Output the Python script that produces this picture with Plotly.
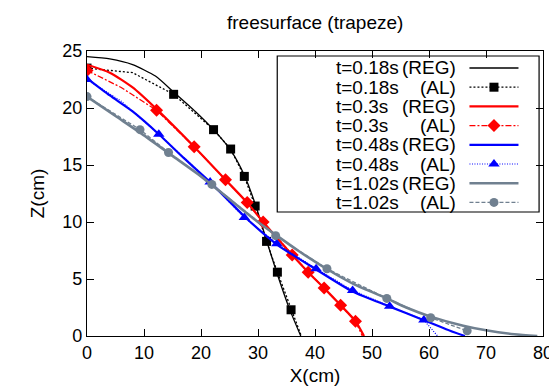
import plotly.graph_objects as go

# ---------------- data ----------------
reg018_x = [0, 4, 8, 12, 15.2, 19, 22.2, 25.2, 27.6, 29.5, 31.3, 33.2, 35.5, 37.5]
reg018_y = [24.5, 24.3, 23.8, 22.8, 21.4, 19.7, 18.1, 16.3, 14.1, 11.6, 8.7, 5.7, 2.4, 0]
al018_x = [0, 8, 15.2, 22.2, 25.2, 27.6, 29.5, 31.5, 33.4, 35.8, 37.6]
al018_y = [23.5, 23.1, 21.2, 18.1, 16.4, 14.0, 11.4, 8.3, 5.6, 2.3, 0]
al018_mx = [0, 15.2, 22.2, 25.2, 27.6, 29.5, 31.5, 33.4, 35.8]
al018_my = [23.5, 21.2, 18.1, 16.4, 14.0, 11.4, 8.3, 5.6, 2.3]

reg030_x = [0, 4, 8, 12.2, 18.8, 24.3, 28.1, 30.9, 36, 38.8, 41.6, 44.5, 47.1, 48.6]
reg030_y = [23.8, 23.1, 21.8, 19.9, 16.6, 13.7, 11.7, 10.0, 7.1, 5.6, 4.2, 2.7, 1.3, 0]
al030_x = [0, 6, 12.2, 18.8, 24.3, 28.1, 30.9, 36.0, 38.8, 41.6, 44.5, 47.1, 48.3]
al030_y = [23.3, 21.8, 19.8, 16.6, 13.7, 11.7, 10.0, 7.1, 5.6, 4.2, 2.7, 1.3, 0]
al030_mx = [0, 12.2, 18.8, 24.3, 28.1, 30.9, 36.0, 38.8, 41.6, 44.5, 47.1]
al030_my = [23.3, 19.8, 16.6, 13.7, 11.7, 10.0, 7.1, 5.6, 4.2, 2.7, 1.3]

reg048_x = [0, 4, 8, 12.6, 17, 21.6, 27.8, 33.4, 40, 46.6, 53, 59, 63, 66.3]
reg048_y = [22.6, 21.1, 19.7, 17.7, 15.6, 13.5, 10.4, 8.0, 5.9, 3.9, 2.6, 1.4, 0.6, 0]
al048_x = [0, 6, 12.6, 21.6, 27.6, 33.3, 40.2, 46.6, 53.1, 59.1, 61.5]
al048_y = [22.5, 20.6, 17.7, 13.5, 10.4, 8.1, 5.9, 4.0, 2.6, 1.4, 0]
al048_mx = [0, 12.6, 21.6, 27.6, 33.3, 40.2, 46.6, 53.1, 59.1]
al048_my = [22.5, 17.7, 13.5, 10.4, 8.1, 5.9, 4.0, 2.6, 1.4]

reg102_x = [0, 5, 10, 15, 20, 25, 30, 33.3, 37, 42, 47, 52.6, 56, 60.3, 66, 70, 75, 79]
reg102_y = [21.0, 19.3, 17.6, 15.8, 14.0, 12.0, 10.0, 8.8, 7.5, 5.9, 4.5, 3.3, 2.5, 1.7, 0.9, 0.5, 0.15, 0]
al102_x = [0, 9.3, 14.3, 21.9, 33.1, 42.1, 52.6, 60.3, 66.7]
al102_y = [21.0, 18.1, 16.1, 13.3, 8.8, 5.9, 3.3, 1.6, 0.45]

legend_times = ["t=0.18s", "t=0.18s", "t=0.3s", "t=0.3s", "t=0.48s", "t=0.48s", "t=1.02s", "t=1.02s"]
legend_kinds = ["(REG)", "(AL)", "(REG)", "(AL)", "(REG)", "(AL)", "(REG)", "(AL)"]

# ---------------- styles ----------------
BLACK, RED, BLUE, GRAY = "#000000", "#ff0000", "#0000ff", "#708090"
FONT = "Liberation Sans, Arial, sans-serif"
FS = 19

series = [
    # (line x, line y, marker x, marker y, color, width, dash, symbol, msize, shape)
    (reg018_x, reg018_y, None, None, BLACK, 1.3, "solid", None, 0, "spline"),
    (al018_x, al018_y, al018_mx, al018_my, BLACK, 1.3, "2px,2px", "square", 9, "linear"),
    (reg030_x, reg030_y, None, None, RED, 2.2, "solid", None, 0, "spline"),
    (al030_x, al030_y, al030_mx, al030_my, RED, 1.3, "6px,2px,2px,2px", "diamond", 10, "linear"),
    (reg048_x, reg048_y, None, None, BLUE, 2.2, "solid", None, 0, "spline"),
    (al048_x, al048_y, al048_mx, al048_my, BLUE, 1.2, "1px,1.5px", "triangle-up", 10, "linear"),
    (reg102_x, reg102_y, None, None, GRAY, 2.6, "solid", None, 0, "spline"),
    (al102_x, al102_y, al102_x, al102_y, GRAY, 1.3, "4px,2px", "circle", 9, "linear"),
]

fig = go.Figure()
for lx, ly, mx, my, col, w, dash, sym, ms, shp in series:
    fig.add_trace(go.Scatter(x=lx, y=ly, mode="lines",
                             line=dict(color=col, width=w, dash=dash, shape=shp, smoothing=0.6),
                             showlegend=False, hoverinfo="skip"))
    if mx is not None:
        fig.add_trace(go.Scatter(x=mx, y=my, mode="markers",
                                 marker=dict(symbol=sym, size=ms, color=col),
                                 showlegend=False, hoverinfo="skip"))

# ---------------- manual gnuplot-style legend ----------------
W, H = 557, 386
L, R, T, B = 79, 544, 43, 328


def fx(px):
    return (px - L) / (R - L)


def fy(py):
    return (B - py) / (B - T)


box = dict(x0=273, x1=540, y0=48, y1=204)
fig.add_shape(type="rect", xref="paper", yref="paper",
              x0=fx(box["x0"]), x1=fx(box["x1"]), y0=fy(box["y1"]), y1=fy(box["y0"]),
              line=dict(color="black", width=1.2), fillcolor="rgba(0,0,0,0)", layer="below")

row0, dy = 60, 19.2
text_left, text_right, s0, s1, smid = 332, 456, 469, 519, 494
for i, (tl, kd, (lx, ly, mx, my, col, w, dash, sym, ms, shp)) in enumerate(
        zip(legend_times, legend_kinds, series)):
    ry = row0 + dy * i
    fig.add_annotation(xref="paper", yref="paper", x=fx(text_left), y=fy(ry),
                       xanchor="left", yanchor="middle", text=tl, showarrow=False,
                       borderpad=0, font=dict(family=FONT, size=FS, color="black"))
    fig.add_annotation(xref="paper", yref="paper", x=fx(text_right), y=fy(ry),
                       xanchor="right", yanchor="middle", text=kd, showarrow=False,
                       borderpad=0, font=dict(family=FONT, size=FS, color="black"))
    fig.add_trace(go.Scatter(x=[fx(s0), fx(s1)], y=[fy(ry), fy(ry)], mode="lines",
                             line=dict(color=col, width=w, dash=dash),
                             xaxis="x2", yaxis="y2", showlegend=False, hoverinfo="skip"))
    if sym is not None:
        fig.add_trace(go.Scatter(x=[fx(smid)], y=[fy(ry)], mode="markers",
                                 marker=dict(symbol=sym, size=ms, color=col),
                                 xaxis="x2", yaxis="y2", showlegend=False, hoverinfo="skip"))

axis_common = dict(showgrid=False, zeroline=False, showline=True, linecolor="black",
                   linewidth=1.3, mirror="ticks", ticks="inside", ticklen=7,
                   tickcolor="black", tickwidth=1.2,
                   tickfont=dict(family=FONT, size=FS - 1, color="black"))

fig.update_layout(
    width=W, height=H,
    margin=dict(l=L, r=W - R, t=T, b=H - B),
    paper_bgcolor="white", plot_bgcolor="white",
    xaxis=dict(range=[0, 80], dtick=10, tick0=0,
               title=dict(text="X(cm)", font=dict(family=FONT, size=FS, color="black"), standoff=6),
               **axis_common),
    yaxis=dict(range=[0, 25], dtick=5, tick0=0,
               title=dict(text="Z(cm)", font=dict(family=FONT, size=FS, color="black"), standoff=12),
               **axis_common),
    xaxis2=dict(overlaying="x", range=[0, 1], visible=False),
    yaxis2=dict(overlaying="y", range=[0, 1], visible=False),
    showlegend=False,
)
fig.add_annotation(xref="paper", yref="paper", x=0.5, y=fy(15), xanchor="center",
                   yanchor="middle", text="freesurface (trapeze)", showarrow=False,
                   font=dict(family=FONT, size=FS, color="black"))

fig.write_html("out.html")
